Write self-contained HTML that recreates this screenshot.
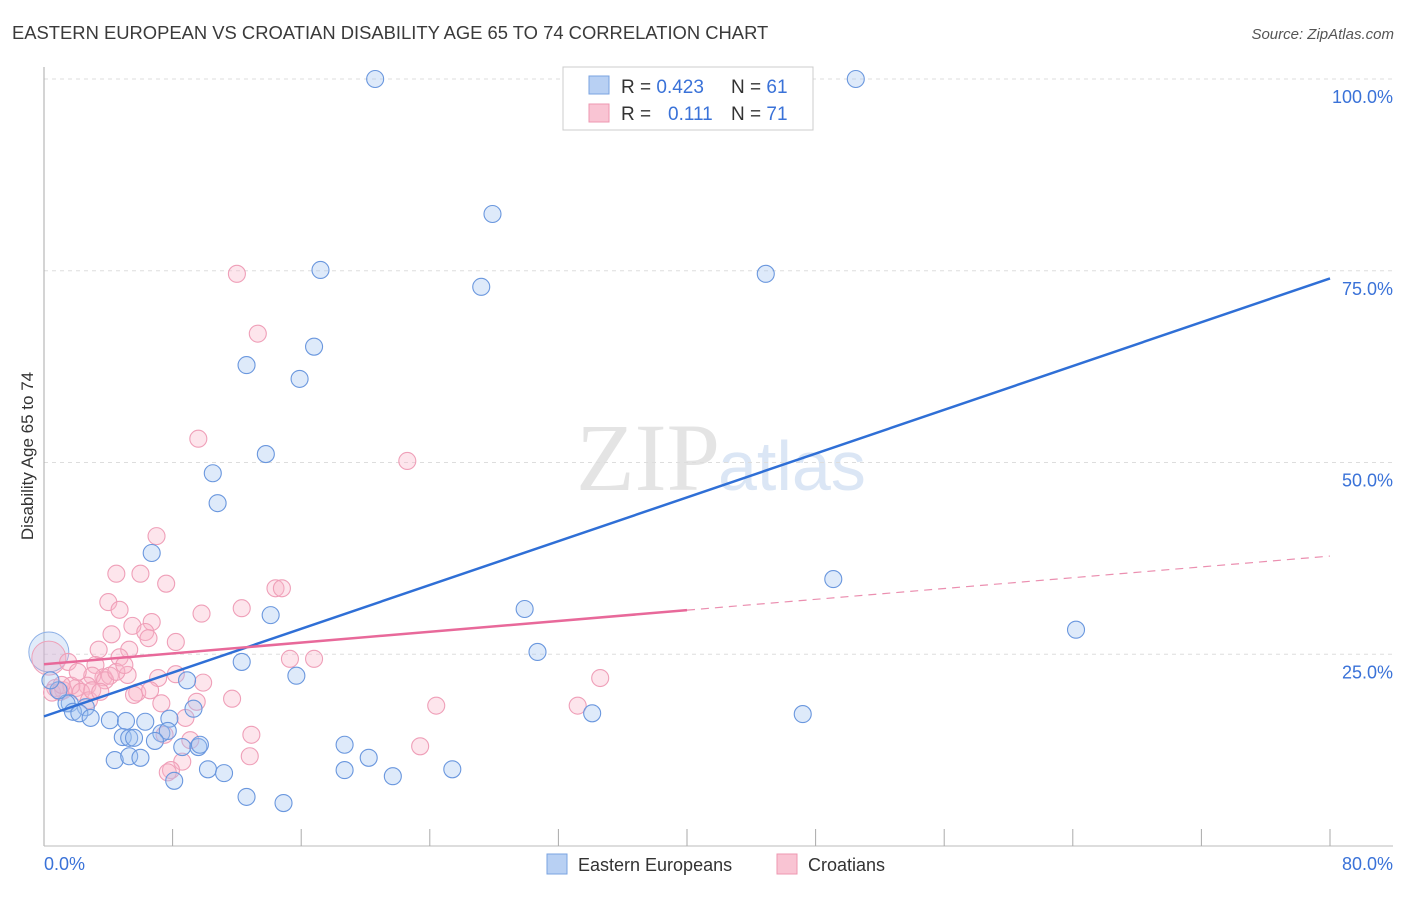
<!DOCTYPE html>
<html><head><meta charset="utf-8"><style>
body{margin:0;background:#fff;font-family:"Liberation Sans",sans-serif;}
</style></head><body>
<svg id="c" width="1406" height="892" xmlns="http://www.w3.org/2000/svg">
<text x="12" y="39" font-size="18.4" fill="#3a3a3a">EASTERN EUROPEAN VS CROATIAN DISABILITY AGE 65 TO 74 CORRELATION CHART</text>
<text x="1394" y="39" font-size="15" fill="#555" font-style="italic" text-anchor="end">Source: ZipAtlas.com</text>
<text x="720" y="490" font-size="96" fill="#e4e4e4" font-family="Liberation Serif,serif" text-anchor="end">ZIP</text>
<text x="718" y="490" font-size="70" fill="#dbe6f5">atlas</text>
<text transform="translate(33,456) rotate(-90)" font-size="17" fill="#333" text-anchor="middle">Disability Age 65 to 74</text>
<g id="grid"></g><g id="pts"></g><g id="lines"></g>
<g>
<rect x="563" y="67" width="250" height="63" fill="#fff" stroke="#ccc"/>
<rect x="589" y="76" width="20" height="18" fill="#b8d0f3" stroke="#7aa3e0"/>
<rect x="589" y="104" width="20" height="18" fill="#f9c4d3" stroke="#ee97b0"/>
<text x="621" y="93" font-size="19" fill="#333">R = <tspan fill="#3a72d8">0.423</tspan></text>
<text x="731" y="93" font-size="19" fill="#333">N = <tspan fill="#3a72d8">61</tspan></text>
<text x="621" y="120" font-size="19" fill="#333">R = </text>
<text x="668" y="120" font-size="19" fill="#3a72d8">0.111</text>
<text x="731" y="120" font-size="19" fill="#333">N = <tspan fill="#3a72d8">71</tspan></text>
</g>
<g>
<rect x="547" y="854" width="20" height="20" fill="#b8d0f3" stroke="#7aa3e0"/>
<text x="578" y="871" font-size="18" fill="#333">Eastern Europeans</text>
<rect x="777" y="854" width="20" height="20" fill="#f9c4d3" stroke="#ee97b0"/>
<text x="808" y="871" font-size="18" fill="#333">Croatians</text>
</g>
</svg>
<script>
const blueX=[20.6,50.5,27.9,17.2,44.9,27.2,16.8,12.6,15.9,13.8,10.5,10.8,6.7,49.1,29.9,14.1,64.2,30.7,12.3,15.7,8.9,1.6,1.4,2.6,1.8,2.2,2.9,9.3,4.1,5.1,6.3,7.8,7.3,7.7,6.9,4.9,5.3,5.6,8.6,9.6,9.7,10.2,11.2,4.4,5.3,6.0,8.1,12.6,14.9,18.7,18.7,20.2,21.7,25.4,34.1,47.2,0.9,0.4];
const blueY=[100,100,82.4,75.1,74.6,72.9,65.1,62.7,60.9,51.1,48.6,44.7,38.2,34.8,30.9,30.1,28.2,25.3,24.0,22.2,21.6,18.6,18.6,18.1,17.5,17.3,16.7,17.9,16.4,16.3,16.2,16.6,14.7,15.0,13.7,14.2,14.1,14.1,12.9,12.9,13.2,10.0,9.5,11.2,11.7,11.5,8.5,6.4,5.6,13.2,9.9,11.5,9.1,10.0,17.3,17.2,20.3,21.6];
const pinkX=[12.0,13.3,9.6,22.6,7.0,4.5,6.0,7.6,4.0,4.7,9.8,12.3,14.4,14.8,4.2,5.5,6.7,6.3,6.5,8.2,3.4,5.3,4.7,3.2,1.5,15.3,16.8,8.2,7.1,9.9,34.6,3.7,5.2,3.0,2.7,2.0,0.7,1.2,1.7,2.3,0.5,5.8,5.6,1.0,4.1,2.8,7.3,9.5,11.7,24.4,33.2,8.8,7.5,9.1,12.9,12.8,23.4,8.6,7.9,7.7,3.8,4.5,1.1,2.1,3.0,3.5,5.0,6.6];
const pinkY=[74.6,66.8,53.1,50.2,40.4,35.5,35.5,34.2,31.8,30.8,30.3,31.0,33.6,33.6,27.6,28.7,29.2,27.9,27.1,26.6,25.6,25.6,24.6,23.6,24.0,24.4,24.4,22.4,21.9,21.3,21.9,22.0,22.3,22.2,20.9,20.6,20.6,20.3,20.9,20.1,20.0,20.0,19.7,20.1,22.2,19.0,18.6,18.8,19.2,18.3,18.3,16.7,14.5,13.8,14.5,11.7,13.0,11.0,9.9,9.6,21.6,22.7,21.0,22.7,20.3,20.1,23.6,20.3];
const yTicks=[25,50,75,100];
const yTickLabels=["25.0%","50.0%","75.0%","100.0%"];
const blueFit=[16.9,74.0];
const pinkFit=[23.7,37.8];
const pinkSolidEnd=40;
const NS="http://www.w3.org/2000/svg";
const sx=v=>44+v/80*1286, sy=v=>846-v*7.67;
function mk(tag,attrs,parent){const e=document.createElementNS(NS,tag);for(const k in attrs)e.setAttribute(k,attrs[k]);parent.appendChild(e);return e;}
const grid=document.getElementById('grid');
yTicks.forEach((t,i)=>{
 const l=mk('line',{x1:44,x2:1393,y1:sy(t),y2:sy(t),stroke:'#ddd','stroke-dasharray':'4,4'},grid);
 
 
 const tx=mk('text',{x:1393,y:sy(t)+24,'font-size':18,fill:'#3a72d8','text-anchor':'end'},grid);
 tx.textContent=yTickLabels[i];
 
 
});
mk('line',{x1:44,x2:44,y1:67,y2:846,stroke:'#aaa'},grid);
mk('line',{x1:44,x2:1393,y1:846,y2:846,stroke:'#bbb'},grid);
for(let i=1;i<=10;i++){const x=sx(i*8);mk('line',{x1:x,x2:x,y1:829,y2:846,stroke:'#aaa'},grid);}
const x0=mk('text',{x:44,y:870,'font-size':18,fill:'#3a72d8'},grid);x0.textContent='0.0%';


const x1=mk('text',{x:1393,y:870,'font-size':18,fill:'#3a72d8','text-anchor':'end'},grid);x1.textContent='80.0%';


const pts=document.getElementById('pts');
const bb=mk('circle',{cx:sx(0.3),cy:sy(25.3),r:20,fill:'rgba(170,200,240,0.35)',stroke:'#8db0e6'},pts);


const pb=mk('circle',{cx:sx(0.3),cy:sy(24.5),r:17,fill:'rgba(245,170,195,0.3)',stroke:'#eea0b8'},pts);


pinkX.forEach((v,i)=>{const c=mk('circle',{cx:sx(v),cy:sy(pinkY[i]),r:8.5,fill:'rgba(248,180,200,0.35)',stroke:'#ef9fb8','stroke-width':1.1},pts);
 
 });
blueX.forEach((v,i)=>{const c=mk('circle',{cx:sx(v),cy:sy(blueY[i]),r:8.5,fill:'rgba(160,195,240,0.35)',stroke:'#6a97de','stroke-width':1.1},pts);
 
 });
const lines=document.getElementById('lines');
const bl=mk('line',{x1:sx(0),y1:sy(blueFit[0]),x2:sx(80),y2:sy(blueFit[1]),stroke:'#2f6fd6','stroke-width':2.5},lines);


const pm=pinkFit[0]+(pinkFit[1]-pinkFit[0])*pinkSolidEnd/80;
const pl=mk('line',{x1:sx(0),y1:sy(pinkFit[0]),x2:sx(pinkSolidEnd),y2:sy(pm),stroke:'#e8699a','stroke-width':2.5},lines);


const pd=mk('line',{x1:sx(pinkSolidEnd),y1:sy(pm),x2:sx(80),y2:sy(pinkFit[1]),stroke:'#eb8fb0','stroke-width':1.2,'stroke-dasharray':'8,6'},lines);


</script>
</body></html>
